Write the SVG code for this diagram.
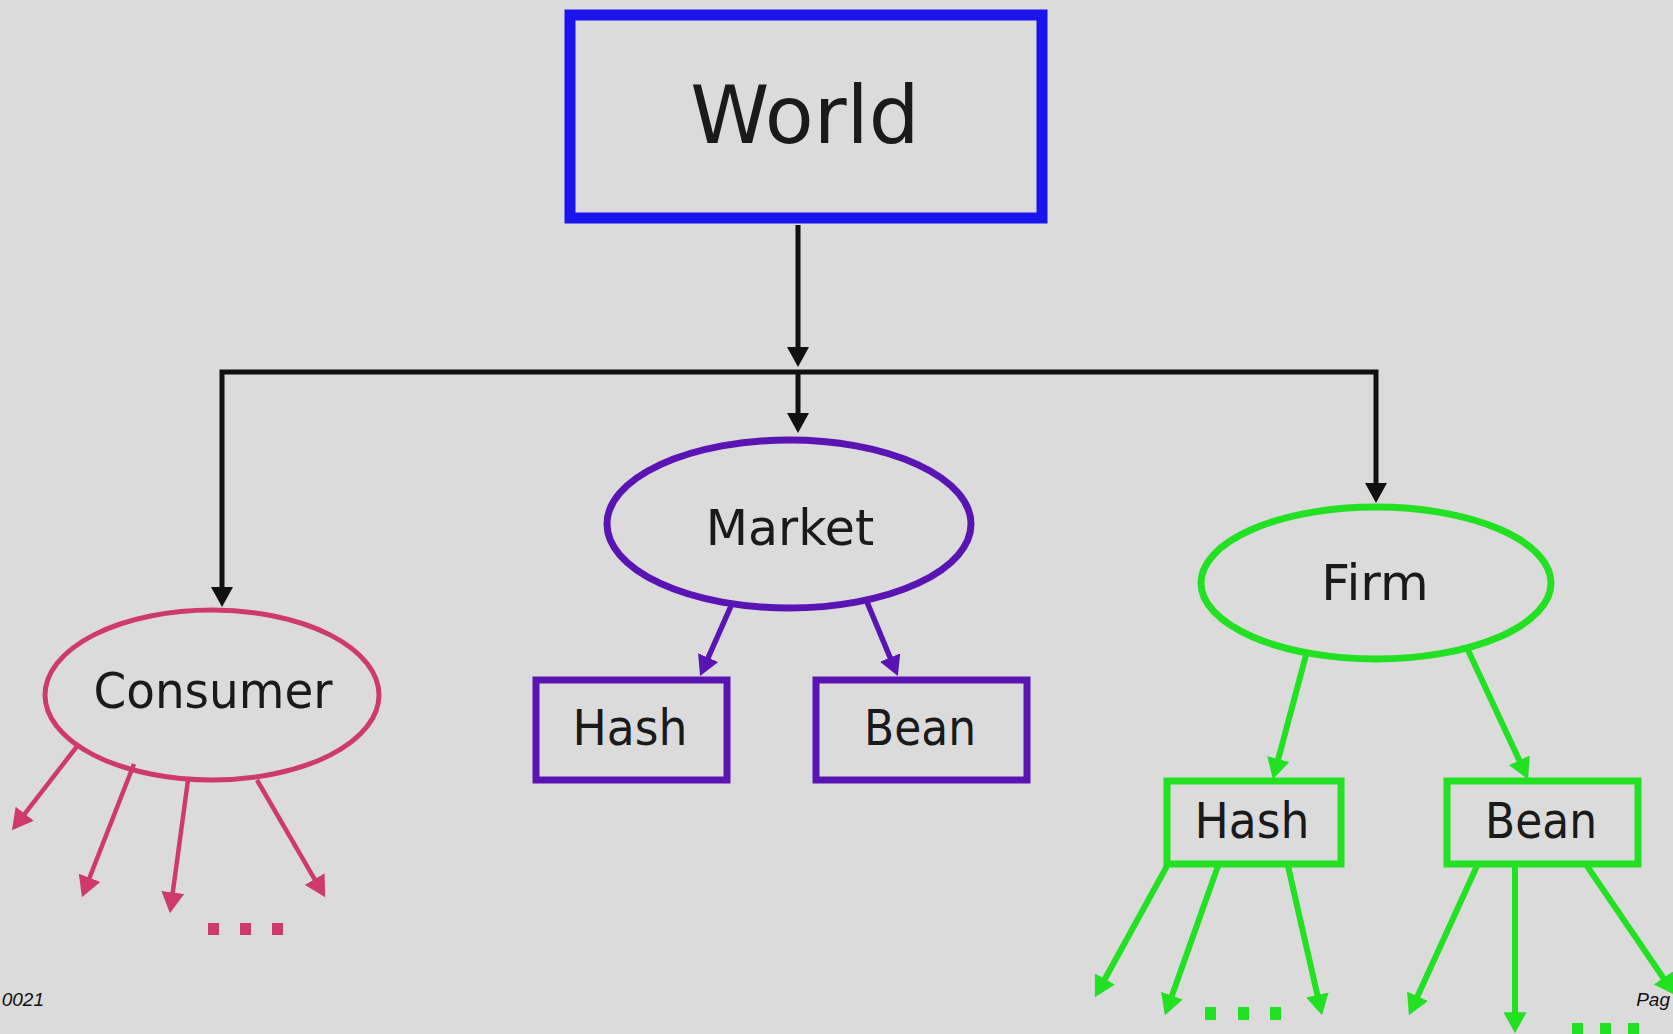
<svg xmlns="http://www.w3.org/2000/svg" width="1673" height="1034" viewBox="0 0 1673 1034">
  <defs>
    <style>
      .lbl { font-family: "DejaVu Sans", "Noto Sans", sans-serif; fill: #1a1a1a; text-anchor: middle; }
      .foot { font-family: "Liberation Sans", Arial, sans-serif; font-style: italic; font-size: 19px; fill: #111; }
      .blk { fill: none; stroke: #111; stroke-width: 5; stroke-linejoin: miter; }
      .pnk { fill: none; stroke: #cf3a6c; stroke-width: 4.5; }
      .pur { fill: none; stroke: #5a14b4; stroke-width: 5.5; }
      .grn { fill: none; stroke: #22e022; stroke-width: 6; }
    </style>
    <marker id="ah-blk" viewBox="0 0 20 22" refX="14" refY="11" markerWidth="20" markerHeight="22" markerUnits="userSpaceOnUse" orient="auto-start-reverse">
      <path d="M0,0 L20,11 L0,22 Z" fill="#111"/>
    </marker>
    <marker id="ah-pnk" viewBox="0 0 20 22" refX="14" refY="11" markerWidth="21" markerHeight="23" markerUnits="userSpaceOnUse" orient="auto">
      <path d="M0,0 L20,11 L0,22 Z" fill="#cf3a6c"/>
    </marker>
    <marker id="ah-pur" viewBox="0 0 20 22" refX="14" refY="11" markerWidth="20" markerHeight="22" markerUnits="userSpaceOnUse" orient="auto">
      <path d="M0,0 L20,11 L0,22 Z" fill="#5a14b4"/>
    </marker>
    <marker id="ah-grn" viewBox="0 0 20 22" refX="14" refY="11" markerWidth="21" markerHeight="23" markerUnits="userSpaceOnUse" orient="auto">
      <path d="M0,0 L20,11 L0,22 Z" fill="#22e022"/>
    </marker>
  </defs>

  <rect x="0" y="0" width="1673" height="1034" fill="#dcdbdc"/>

  <!-- connectors -->
  <g id="connectors">
    <!-- World to the three children -->
    <path class="blk" d="M798,225 V361" marker-end="url(#ah-blk)"/>
    <path class="blk" d="M222,601 V372 H1376 V497" marker-start="url(#ah-blk)" marker-end="url(#ah-blk)"/>
    <path class="blk" d="M798,372 V427" marker-end="url(#ah-blk)"/>

    <!-- Market to goods -->
    <path class="pur" d="M731,606 L702.5,670.5" marker-end="url(#ah-pur)"/>
    <path class="pur" d="M867,602 L895.5,670.5" marker-end="url(#ah-pur)"/>

    <!-- Consumer fan-out -->
    <path class="pnk" d="M78,745 L15.8,825.3" marker-end="url(#ah-pnk)"/>
    <path class="pnk" d="M134,764 L84.2,891.4" marker-end="url(#ah-pnk)"/>
    <path class="pnk" d="M188,780 L170.8,907" marker-end="url(#ah-pnk)"/>
    <path class="pnk" d="M257,780 L322,891.8" marker-end="url(#ah-pnk)"/>

    <!-- Firm to goods -->
    <path class="grn" d="M1306,655 L1274.5,773.2" marker-end="url(#ah-grn)"/>
    <path class="grn" d="M1467,648 L1525.5,773.6" marker-end="url(#ah-grn)"/>

    <!-- Firm goods fan-out -->
    <path class="grn" d="M1167,866 L1097.9,991.8" marker-end="url(#ah-grn)"/>
    <path class="grn" d="M1218,866 L1167,1009.4" marker-end="url(#ah-grn)"/>
    <path class="grn" d="M1288,866 L1320.6,1009.2" marker-end="url(#ah-grn)"/>
    <path class="grn" d="M1477,866 L1411.5,1009.6" marker-end="url(#ah-grn)"/>
    <path class="grn" d="M1515,866 L1515,1027" marker-end="url(#ah-grn)"/>
    <path class="grn" d="M1587,866 L1671.6,990" marker-end="url(#ah-grn)"/>

    <!-- ellipsis marks -->
    <g fill="#cf3a6c">
      <rect x="208" y="923" width="11" height="12"/>
      <rect x="240" y="923" width="11" height="12"/>
      <rect x="272" y="923" width="11" height="12"/>
    </g>
    <g fill="#22e022">
      <rect x="1205" y="1007" width="11" height="13"/>
      <rect x="1238" y="1007" width="11" height="13"/>
      <rect x="1270" y="1007" width="11" height="13"/>
      <rect x="1572" y="1023" width="11" height="11"/>
      <rect x="1600" y="1023" width="11" height="11"/>
      <rect x="1628" y="1023" width="11" height="11"/>
    </g>
  </g>

  <g id="world">
    <rect x="570" y="15" width="472" height="203" fill="none" stroke="#1a14ee" stroke-width="11"/>
    <text class="lbl" x="805" y="143" font-size="80">World</text>
  </g>

  <g id="market">
    <ellipse cx="789" cy="524" rx="182" ry="84" fill="none" stroke="#5a14b4" stroke-width="7"/>
    <text class="lbl" x="790" y="545" font-size="49">Market</text>
  </g>
  <g id="market-hash">
    <rect x="536" y="680" width="191" height="100" fill="none" stroke="#5a14b4" stroke-width="7"/>
    <text class="lbl" x="630" y="745" font-size="50" textLength="115" lengthAdjust="spacingAndGlyphs">Hash</text>
  </g>
  <g id="market-bean">
    <rect x="816" y="680" width="211" height="100" fill="none" stroke="#5a14b4" stroke-width="7"/>
    <text class="lbl" x="920" y="745" font-size="50" textLength="112" lengthAdjust="spacingAndGlyphs">Bean</text>
  </g>

  <g id="consumer">
    <ellipse cx="212" cy="695" rx="167" ry="85" fill="none" stroke="#cf3a6c" stroke-width="5"/>
    <text class="lbl" x="213" y="708" font-size="50" textLength="239" lengthAdjust="spacingAndGlyphs">Consumer</text>
  </g>

  <g id="firm">
    <ellipse cx="1376" cy="583" rx="175" ry="76" fill="none" stroke="#22e022" stroke-width="7"/>
    <text class="lbl" x="1375" y="600" font-size="50">Firm</text>
  </g>
  <g id="firm-hash">
    <rect x="1167" y="781" width="174" height="83" fill="none" stroke="#22e022" stroke-width="7"/>
    <text class="lbl" x="1252" y="838" font-size="50" textLength="115" lengthAdjust="spacingAndGlyphs">Hash</text>
  </g>
  <g id="firm-bean">
    <rect x="1447" y="781" width="191" height="83" fill="none" stroke="#22e022" stroke-width="7"/>
    <text class="lbl" x="1541" y="838" font-size="50" textLength="112" lengthAdjust="spacingAndGlyphs">Bean</text>
  </g>

  <!-- page footer -->
  <text class="foot" x="44" y="1006" text-anchor="end">0021</text>
  <text class="foot" x="1670" y="1006" text-anchor="end">Pag</text>
</svg>
